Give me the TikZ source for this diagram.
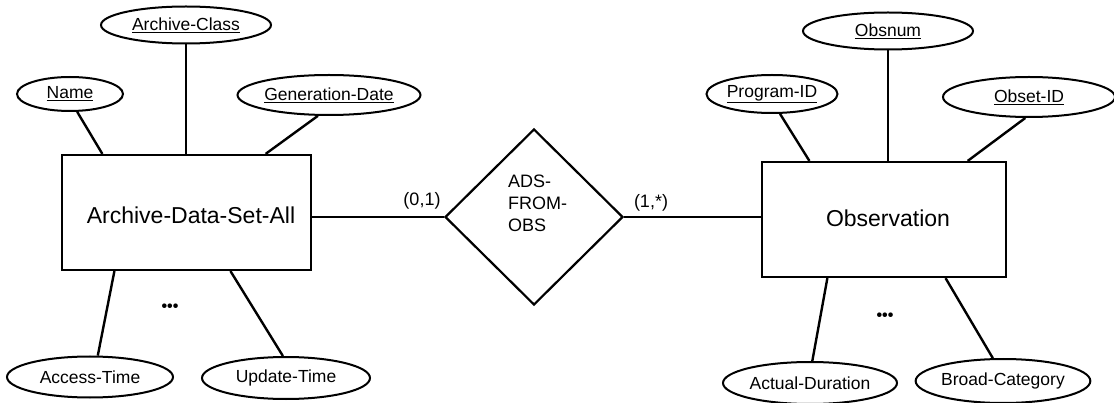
\documentclass[tikz,border=0pt]{standalone}
\usepackage{fontspec}
\setmainfont{Liberation Sans}
\usetikzlibrary{shapes.geometric,calc}
\tikzset{
  conn/.style={line width=2.4pt},
  attr/.style={ellipse,draw,line width=2pt,inner sep=0pt,font=\fontsize{17.5}{20}\selectfont},
  entity/.style={rectangle,draw,line width=2.2pt,inner sep=0pt,font=\fontsize{23}{26}\selectfont},
  rel/.style={diamond,draw,line width=2.2pt,inner sep=0pt},
  lbl/.style={inner sep=0pt,font=\fontsize{18}{22}\selectfont},
  dots/.style={inner sep=0pt,font=\fontsize{16}{18}\selectfont\bfseries}
}
\begin{document}
\begin{tikzpicture}[x=1pt,y=-1pt]
\useasboundingbox (0,0) rectangle (1114,403);
% left entity
\node[entity,minimum width=249pt,minimum height=115pt] (ADS) at (186.5,212.5) {};
\node[lbl,font=\fontsize{23}{26}\selectfont] (ADSt) at (191,215) {Archive-Data-Set-All};
\node[attr,minimum width=106pt,minimum height=34pt] (Name) at (70,94) {\underline{Name}};
\node[attr,minimum width=170pt,minimum height=37pt] (AC) at (186,25) {\underline{Archive-Class}};
\node[attr,minimum width=178pt,minimum height=40pt] (GD) at (329,95) {\underline{Generation-Date}};
\node[attr,minimum width=166pt,minimum height=41pt] (AT) at (90,377) {Access-Time};
\node[attr,minimum width=168pt,minimum height=42pt] (UT) at (286,378) {Update-Time};
\node[dots] (d1) at (170,308) {\textbullet\textbullet\textbullet};
% relationship
\node[rel,minimum width=178pt,minimum height=176pt] (R) at (534,217) {};
\node[lbl,align=left,anchor=west] (Rt) at (508,203) {ADS-\\FROM-\\OBS};
\node[lbl] (c1) at (422,201) {(0,1)};
\node[lbl] (c2) at (651,203) {(1,*)};
% right entity
\node[entity,minimum width=244pt,minimum height=115pt] (OBS) at (884,219.5) {};
\node[lbl,font=\fontsize{23}{26}\selectfont] (OBSt) at (888,218) {Observation};
\node[attr,minimum width=131pt,minimum height=38pt] (PID) at (772,94) {\underline{Program-ID}};
\node[attr,minimum width=170pt,minimum height=37pt] (ON) at (888,31) {\underline{Obsnum}};
\node[attr,minimum width=172pt,minimum height=40pt] (OID) at (1029,97) {\underline{Obset-ID}};
\node[attr,minimum width=174pt,minimum height=42pt] (AD) at (810,383) {Actual-Duration};
\node[attr,minimum width=173pt,minimum height=44pt] (BC) at (1003,381) {Broad-Category};
\node[dots] (d2) at (885,317) {\textbullet\textbullet\textbullet};
% connectors left
\draw[conn] (Name.-68) -- ($(ADS.north west)!0.165!(ADS.north east)$);
\draw[conn] (AC.south) -- (AC.south |- ADS.north);
\draw[conn] (GD.-118) -- ($(ADS.north west)!0.815!(ADS.north east)$);
\draw[conn] ($(ADS.south west)!0.213!(ADS.south east)$) -- (AT.70);
\draw[conn] ($(ADS.south west)!0.675!(ADS.south east)$) -- (UT.98);
% relationship connectors
\draw[conn] (R.west) -- (R.west -| ADS.east);
\draw[conn] (R.east) -- (R.east -| OBS.west);
% connectors right
\draw[conn] (PID.-68) -- ($(OBS.north west)!0.197!(OBS.north east)$);
\draw[conn] (ON.south) -- (ON.south |- OBS.north);
\draw[conn] (OID.-100) -- ($(OBS.north west)!0.84!(OBS.north east)$);
\draw[conn] ($(OBS.south west)!0.27!(OBS.south east)$) -- (AD.84);
\draw[conn] ($(OBS.south west)!0.75!(OBS.south east)$) -- (BC.114);
\end{tikzpicture}
\end{document}
